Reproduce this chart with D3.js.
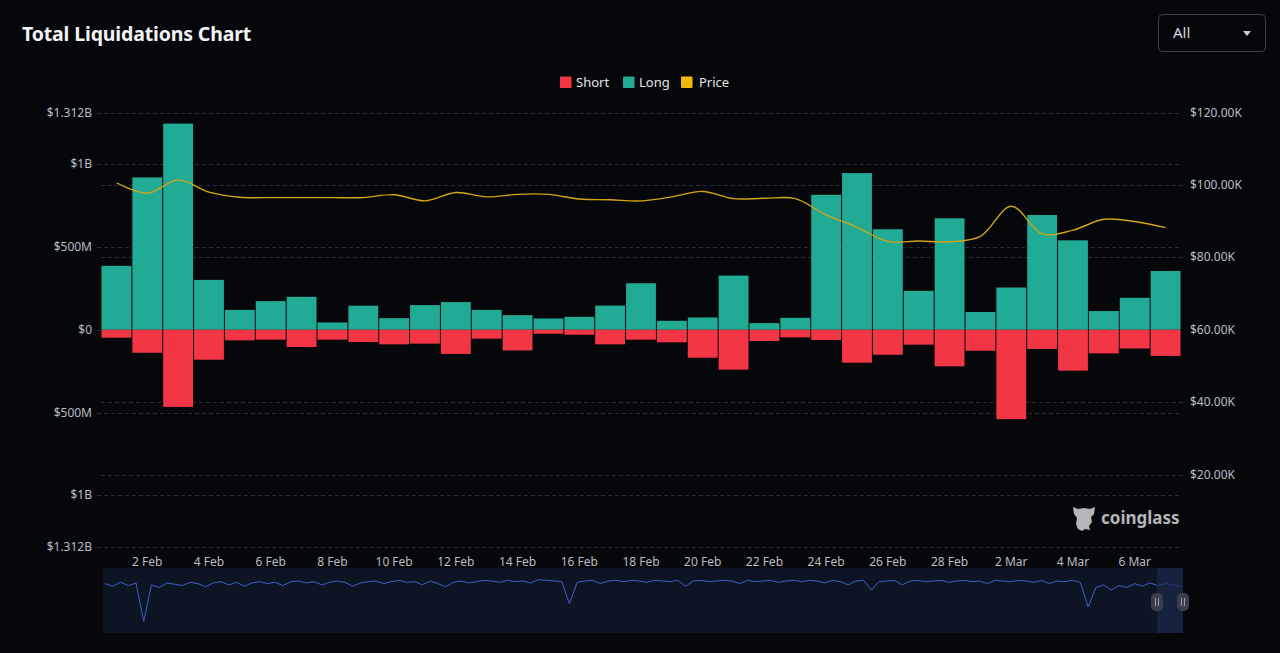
<!DOCTYPE html>
<html><head><meta charset="utf-8">
<script src="https://cdn.jsdelivr.net/npm/d3@7"></script>
<style>
html,body{margin:0;padding:0;background:#06070b;}
svg{display:block;}
</style></head>
<body>
<svg id="c" width="1280" height="653"></svg>
<script>
// ---- data ----
const dates = ["1 Feb","2 Feb","3 Feb","4 Feb","5 Feb","6 Feb","7 Feb","8 Feb","9 Feb","10 Feb","11 Feb","12 Feb","13 Feb","14 Feb","15 Feb","16 Feb","17 Feb","18 Feb","19 Feb","20 Feb","21 Feb","22 Feb","23 Feb","24 Feb","25 Feb","26 Feb","27 Feb","28 Feb","1 Mar","2 Mar","3 Mar","4 Mar","5 Mar","6 Mar","7 Mar"];
const longLiq = [386,920,1245,301,120,173,199,44,145,70,149,167,120,88,68,78,146,281,54,74,327,40,72,815,946,607,235,673,107,255,693,540,113,193,355]; // $M
const shortLiq = [48,139,466,181,64,60,104,60,74,88,84,146,54,125,24,30,88,60,76,169,241,68,46,62,199,151,90,221,127,540,116,247,143,113,158]; // $M
const price = [100.6,97.7,101.4,98.0,96.6,96.5,96.5,96.5,96.5,97.3,95.6,97.9,96.7,97.4,97.4,96.1,95.9,95.6,96.7,98.2,96.2,96.3,96.2,91.7,88.3,84.4,84.5,84.3,85.8,94.1,86.5,87.5,90.5,89.9,88.2]; // $K
const xTickLabels = ["2 Feb","4 Feb","6 Feb","8 Feb","10 Feb","12 Feb","14 Feb","16 Feb","18 Feb","20 Feb","22 Feb","24 Feb","26 Feb","28 Feb","2 Mar","4 Mar","6 Mar"];
const leftTicks = [-1312,-1000,-500,0,500,1000,1312];
const leftTickLabels = ["$1.312B","$1B","$500M","$0","$500M","$1B","$1.312B"];
const rightTicks = [20,40,60,80,100,120];
const rightTickLabels = ["$20.00K","$40.00K","$60.00K","$80.00K","$100.00K","$120.00K"];
const overview = [76,72,78,73,77,18,74,70,77,75,
 73,78,76,71,77,79,74,78,72,77,
 79,76,78,73,79,80,77,79,74,78,
 80,78,72,77,79,80,76,79,81,78,
 79,74,80,76,71,78,80,77,79,81,
 80,78,81,79,80,77,82,81,80,79,
 45,78,80,81,76,80,81,79,81,80,
 78,81,80,79,81,72,80,81,79,80,
 81,80,76,81,79,80,81,78,80,81,
 79,81,80,77,81,79,74,80,81,66,
 79,80,81,74,80,81,79,80,81,78,
 80,81,79,80,76,81,80,79,81,80,
 78,81,76,80,79,81,78,40,70,74,
 66,73,70,76,72,77,73,76,74,72];
const legendItems = [{name:"Short",color:"#f23645"},{name:"Long",color:"#22ab94"},{name:"Price",color:"#f0b90b"}];

// ---- layout ----
const svg = d3.select("#c");
const L = 101, R = 1181, T = 112.5, B = 547;
const font = "'Noto Sans', 'Open Sans', sans-serif";

const x = d3.scaleBand().domain(dates).range([L, R]).padding(0);
const yL = d3.scaleLinear().domain([-1312, 1312]).range([B, T]);
const yR = d3.scaleLinear().domain([0, 120]).range([B, T]);

// title
svg.append("text").attr("x", 22).attr("y", 41).text("Total Liquidations Chart")
  .attr("fill", "#f2f3f5").attr("font-family", font).attr("font-weight", 700).attr("font-size", 19.5)
  .attr("letter-spacing", -0.15);

// dropdown
svg.append("rect").attr("x", 1158.5).attr("y", 14.5).attr("width", 107).attr("height", 37).attr("rx", 4)
  .attr("fill", "none").attr("stroke", "#3b3e46");
svg.append("text").attr("x", 1173).attr("y", 38).text("All").attr("fill", "#d6d8dc")
  .attr("font-family", font).attr("font-size", 15);
svg.append("path").attr("d", "M1243,31 L1251,31 L1247,36 Z").attr("fill", "#c8cacf");

// legend
const lg = svg.append("g").attr("font-family", font).attr("font-size", 13);
const legendX = [560, 623, 681];
legendItems.forEach((d, i) => {
  lg.append("rect").attr("x", legendX[i]).attr("y", 76.5).attr("width", 11.5).attr("height", 11.5).attr("fill", d.color).attr("rx", 1);
  lg.append("text").attr("x", legendX[i] + (i === 2 ? 18 : 16)).attr("y", 87).text(d.name).attr("fill", "#e3e5e8");
});

// grid (dedupe coinciding lines)
const grid = svg.append("g").attr("stroke", "#2a2d34").attr("stroke-dasharray", "4,3").attr("stroke-width", 1);
const used = new Set();
leftTicks.forEach(t => {
  const yy = Math.round(yL(t)) + 0.5;
  used.add(Math.round(yy));
  grid.append("line").attr("x1", L - 4).attr("x2", R).attr("y1", yy).attr("y2", yy);
});
rightTicks.forEach(t => {
  const yy = Math.round(yR(t)) + 0.5;
  if (used.has(Math.round(yy)) || used.has(Math.round(yy) - 1) || used.has(Math.round(yy) + 1)) return;
  grid.append("line").attr("x1", L).attr("x2", R + 4).attr("y1", yy).attr("y2", yy);
});

// bars
const bars = svg.append("g");
bars.selectAll("rect.long").data(dates).join("rect").attr("class", "long")
  .attr("x", d => x(d) + 0.5).attr("width", x.bandwidth() - 1)
  .attr("y", (d, i) => yL(longLiq[i])).attr("height", (d, i) => yL(0) - yL(longLiq[i]))
  .attr("fill", "#22ab94");
bars.selectAll("rect.short").data(dates).join("rect").attr("class", "short")
  .attr("x", d => x(d) + 0.5).attr("width", x.bandwidth() - 1)
  .attr("y", yL(0)).attr("height", (d, i) => yL(-shortLiq[i]) - yL(0))
  .attr("fill", "#f23645");

// price line
const line = d3.line().x((d, i) => x(dates[i]) + x.bandwidth() / 2).y(d => yR(d)).curve(d3.curveCatmullRom.alpha(0.5));
svg.append("path").datum(price).attr("d", line).attr("fill", "none").attr("stroke", "#d4a514").attr("stroke-width", 1.4);

// left axis
const la = svg.append("g").attr("font-family", font).attr("font-size", 12).attr("fill", "#b9bcc2").attr("text-anchor", "end");
leftTicks.forEach((t, i) => {
  la.append("text").attr("x", 92).attr("y", yL(t) + 4).text(leftTickLabels[i]);
});
// right axis
const ra = svg.append("g").attr("font-family", font).attr("font-size", 12).attr("fill", "#b9bcc2");
rightTicks.forEach((t, i) => {
  ra.append("text").attr("x", 1190).attr("y", yR(t) + 4).text(rightTickLabels[i]);
});
// x axis labels
const xa = svg.append("g").attr("font-family", font).attr("font-size", 12).attr("fill", "#b9bcc2").attr("text-anchor", "middle");
xTickLabels.forEach(lbl => {
  xa.append("text").attr("x", x(lbl) + x.bandwidth() / 2).attr("y", 566).text(lbl);
});

// watermark
const wm = svg.append("g").attr("fill", "#b4b6ba");
wm.append("path").attr("d", "M1073,507 L1078,509 L1084,508 L1090,509 L1095,507 L1094,514 L1091,517 L1092,522 L1089,526 L1090,530 L1085,529 L1082,531 L1078,529 L1076,524 L1077,518 L1074,514 Z");
wm.append("text").attr("x", 1101).attr("y", 524).text("coinglass").attr("font-family", font)
  .attr("font-weight", 700).attr("font-size", 17);

// overview (data zoom)
const oL = 103, oR = 1183, oT = 568, oB = 633;
svg.append("rect").attr("x", oL).attr("y", oT).attr("width", oR - oL).attr("height", oB - oT).attr("fill", "#0d1424");
const ox = d3.scaleLinear().domain([0, overview.length - 1]).range([oL + 2, oR - 2]);
const oy = d3.scaleLinear().domain([0, 100]).range([oB, oT]);
svg.append("path").datum(overview).attr("d", d3.line().x((d, i) => ox(i)).y(d => oy(d)))
  .attr("fill", "none").attr("stroke", "#3c63c4").attr("stroke-width", 1);
svg.append("rect").attr("x", 1157).attr("y", oT).attr("width", oR - 1157).attr("height", oB - oT).attr("fill", "#1c2a4a").attr("opacity", 0.7);
[1157, 1183].forEach(hx => {
  svg.append("rect").attr("x", hx - 6).attr("y", 593).attr("width", 12).attr("height", 18).attr("rx", 5).attr("fill", "#3a3f4b");
  svg.append("line").attr("x1", hx - 1.5).attr("x2", hx - 1.5).attr("y1", 598).attr("y2", 606).attr("stroke", "#9aa0ab");
  svg.append("line").attr("x1", hx + 1.5).attr("x2", hx + 1.5).attr("y1", 598).attr("y2", 606).attr("stroke", "#9aa0ab");
});
</script>
</body></html>
